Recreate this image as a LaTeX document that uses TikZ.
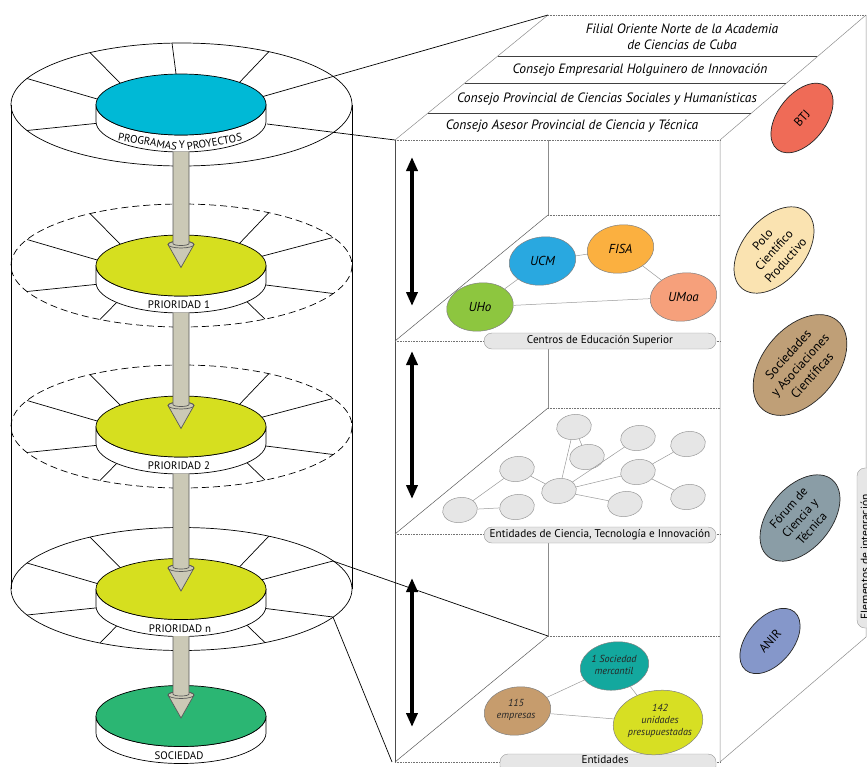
\documentclass[tikz,border=0pt]{standalone}
\usepackage{fontspec}
\setmainfont{PT Sans}
\usetikzlibrary{shapes.geometric,arrows.meta}
\definecolor{cyanD}{HTML}{00B9D6}
\definecolor{ylw}{HTML}{D6DF1F}
\definecolor{grn}{HTML}{2BB673}
\definecolor{shaftc}{HTML}{CBC9B6}
\definecolor{uhoc}{HTML}{8DC63F}
\definecolor{ucmc}{HTML}{29A8E0}
\definecolor{fisac}{HTML}{FBB040}
\definecolor{umoac}{HTML}{F6A07B}
\definecolor{netc}{HTML}{E6E6E6}
\definecolor{merc}{HTML}{13A89E}
\definecolor{empc}{HTML}{C69C6D}
\definecolor{unic}{HTML}{D7DF23}
\definecolor{btjc}{HTML}{EF6B57}
\definecolor{poloc}{HTML}{FAE3B1}
\definecolor{socc}{HTML}{BF9F77}
\definecolor{forc}{HTML}{8A9DA6}
\definecolor{anirc}{HTML}{8597CA}
\definecolor{tabc}{HTML}{E6E6E6}
\newcommand\rlines[1]{%
  \draw[cyl] (90,#1-52)--(122,#1-19.5) (27,#1-26)--(104,#1-3.5)
    (27,#1+26)--(100,#1+18.5) (100,#1+54)--(123,#1+30.5)
    (269,#1-53)--(237,#1-19.5) (333,#1-28)--(256,#1-7.7)
    (333,#1+28)--(258,#1+18.5) (265,#1+53.6)--(241,#1+30.5);}
\newcommand\mydisc[2]{%
  \filldraw[cyl,fill=white] (96,#1) -- (96,#1+17) arc[start angle=180,end angle=0,x radius=85,y radius=30.5] -- (266,#1) arc[start angle=0,end angle=180,x radius=85,y radius=30.5] -- cycle;
  \filldraw[cyl,fill=#2] (181,#1) ellipse[x radius=85,y radius=30.5];}
\newcommand\myshaft[2]{%
  \filldraw[shaftln] (168,#2-21) -- (181,#2+2) -- (194,#2-21) arc[start angle=0,end angle=-180,x radius=13,y radius=3.5] -- cycle;
  \draw[shaftln,fill=none] (181,#2-21) ellipse[x radius=13,y radius=3.5];
  \filldraw[shaftln] (173,#1) -- (173,#2-22) arc[start angle=180,end angle=0,x radius=8,y radius=2] -- (189,#1);}
\begin{document}
\begin{tikzpicture}[x=1pt,y=-1pt,
  cyl/.style={draw=black,line width=0.7pt},
  dsh/.style={dash pattern=on 7pt off 4pt},
  shaftln/.style={draw=black!65,fill=shaftc,line width=0.7pt},
  band/.style={font=\fontsize{10.9}{12}\selectfont,inner sep=0pt,anchor=base},
  boxln/.style={draw=black!45,line width=0.5pt},
  frontln/.style={draw=black!70,line width=0.6pt},
  dotln/.style={draw=black!55,line width=0.6pt,dash pattern=on 0.8pt off 0.8pt},
  diagln/.style={draw=black!65,line width=0.5pt},
  stripln/.style={draw=black!75,line width=0.6pt},
  conn/.style={draw=black,line width=0.7pt},
  lbl/.style={font=\fontsize{13.5}{16}\selectfont\itshape,inner sep=0pt,align=center},
  tabbox/.style={draw=black!40,fill=tabc,rounded corners=8pt,minimum width=232pt,minimum height=16pt,inner sep=0pt,font=\fontsize{11.2}{12}\selectfont},
  dbl/.style={line width=3.5pt,{Triangle[length=14pt,width=11pt]}-{Triangle[length=14pt,width=11pt]}},
  unell/.style={ellipse,draw=black!50,line width=0.5pt,inner sep=0pt,minimum width=67pt,minimum height=48pt,rotate=8},
  unt/.style={font=\fontsize{13}{14}\selectfont\itshape,inner sep=0pt},
  netell/.style={ellipse,draw=black!40,fill=netc,line width=0.5pt,inner sep=0pt,minimum width=35pt,minimum height=25pt,rotate=8},
  netln/.style={draw=black!40,line width=0.5pt},
  entt/.style={font=\fontsize{10.2}{12}\selectfont\itshape,inner sep=0pt,align=center,text=black!85},
  intell/.style={ellipse,draw=black!85,line width=0.7pt,inner sep=0pt,rotate=52},
  intt/.style={font=\fontsize{12.3}{15.5}\selectfont,inner sep=0pt,align=center,rotate=48}]
\useasboundingbox (0,0) rectangle (867,766);

% ---------- cylinder ----------
\draw[cyl] (11,104.5) -- (11,589) (352,104.5) -- (352,589);
\draw[cyl] (181.5,104.5) ellipse[x radius=170.5,y radius=61.5];
\draw[cyl,dsh] (181.5,265.5) ellipse[x radius=170.5,y radius=61.5];
\draw[cyl,dsh] (181.5,426.5) ellipse[x radius=170.5,y radius=61.5];
\draw[cyl] (181.5,589) ellipse[x radius=170.5,y radius=61.5];
\draw[cyl] (172,43)--(176.5,77.5) (90,52.5)--(122,85) (27,78.5)--(104,101)
  (27,130.5)--(100,123) (269,51.5)--(237,85);
\rlines{265.5}
\rlines{426.5}
\rlines{589}

\mydisc{104.5}{cyanD}
\mydisc{265.5}{ylw}
\mydisc{426.5}{ylw}
\mydisc{589}{ylw}
\mydisc{716}{grn}

\node[band,rotate=-10] (pp1) at (147,145.5) {PROGRAMAS};
\node[band] (pp2) at (182,148.3) {Y};
\node[band,rotate=10] (pp3) at (215,145.6) {PROYECTOS};
\node[band] (pr1) at (179,308.5) {PRIORIDAD 1};
\node[band] (pr2) at (179,469.5) {PRIORIDAD 2};
\node[band] (prn) at (180,632.5) {PRIORIDAD n};
\node[band] (soc) at (179,759) {SOCIEDAD};

\myshaft{151.5}{265.5}
\myshaft{312.5}{426.5}
\myshaft{473.5}{589}
\myshaft{636}{716}

% ---------- box ----------
\coordinate (FTL) at (395,140); \coordinate (FTR) at (720,140);
\coordinate (BTL) at (548,15);  \coordinate (BTR) at (866,15);
\coordinate (FBL) at (395,762); \coordinate (FBR) at (720,762);
\coordinate (BBR) at (866,637); \coordinate (BBL) at (548,636);
\draw[boxln] (FTL)--(BTL) (FTR)--(BTR) (BTR)--(BBR)--(FBR) (FTR)--(FBR);
\draw[dotln] (BTL)--(BTR) (FTL)--(FTR);
\draw[stripln] (498,56)--(817,56) (465,83)--(786,83) (428,113)--(751,113);
\draw[frontln] (FTL)--(FBL);
\draw[boxln] (548,140)--(548,215) (548,341)--(548,408) (548,534)--(548,636);
\draw[dotln] (548,215)--(720,215) (395,341)--(720,341)
  (548,408)--(720,408) (395,534)--(720,534)
  (548,636)--(720,636) (395,762)--(720,762);
\draw[diagln] (395,341)--(548,215) (395,534)--(548,408) (395,762)--(548,636);

\node[lbl] (l1) at (682,37) {Filial Oriente Norte de la Academia\\de Ciencias de Cuba};
\node[lbl] (l2) at (640,70) {Consejo Empresarial Holguinero de Innovación};
\node[lbl] (l3) at (607,99) {Consejo Provincial de Ciencias Sociales y Humanísticas};
\node[lbl] (l4) at (572,126) {Consejo Asesor Provincial de Ciencia y Técnica};

\node[tabbox] (tab1) at (600,341) {Centros de Educación Superior};
\node[tabbox] (tab2) at (600,535) {Entidades de Ciencia, Tecnología e Innovación};
\node[tabbox,minimum width=216pt,minimum height=20pt] (tab3) at (608,764) {};
\node[font=\fontsize{11.2}{12}\selectfont,inner sep=0pt] (tab3t) at (605,759.5) {Entidades};
\node[draw=black!40,fill=tabc,rounded corners=8pt,minimum width=160pt,minimum height=28pt,rotate=90,inner sep=0pt] (tab4) at (871,548) {};
\node[rotate=90,font=\fontsize{11.5}{13}\selectfont,inner sep=0pt] (tab4t) at (866,557) {Elementos de integración};

% arrows
\coordinate (a1t) at (412,157); \coordinate (a1b) at (412,306);
\coordinate (a2t) at (412,351); \coordinate (a2b) at (412,499);
\coordinate (a3t) at (412,578); \coordinate (a3b) at (412,727);
\draw[dbl] (a1t) -- (a1b);
\draw[dbl] (a2t) -- (a2b);
\draw[dbl] (a3t) -- (a3b);

% level 1
\node[unell,fill=uhoc] (uho) at (480,307) {};
\node[unell,fill=ucmc] (ucm) at (542.5,261) {};
\node[unell,fill=fisac] (fisa) at (620.5,249) {};
\node[unell,fill=umoac] (umoa) at (683.5,297) {};
\draw[netln] (uho)--(ucm) (ucm)--(fisa) (fisa)--(umoa) (uho)--(umoa);
\node[unt] (uhot) at (uho.center) {UHo};
\node[unt] (ucmt) at (ucm.center) {UCM};
\node[unt] (fisat) at (fisa.center) {FISA};
\node[unt] (umoat) at (umoa.center) {UMoa};

% level 2
\node[netell] (na) at (460,510) {};
\node[netell] (nb) at (517,507) {};
\node[netell] (nc) at (517,469) {};
\node[netell] (nd) at (559,491) {};
\node[netell] (ne) at (574,427) {};
\node[netell] (nf) at (587,457) {};
\node[netell] (ng) at (638,438) {};
\node[netell] (nh) at (638,472) {};
\node[netell] (ni) at (625,504) {};
\node[netell] (nj) at (688,444) {};
\node[netell] (nk) at (688,497) {};
\draw[netln] (na)--(nb) (na)--(nc) (nc)--(nd) (nd)--(ne) (ne)--(nf)
  (nd)--(ng) (nd)--(nh) (nd)--(ni) (nh)--(nj) (nh)--(nk);

% level 3
\node[unell,fill=merc,minimum width=69pt,minimum height=48pt] (mer) at (614.5,666) {};
\node[unell,fill=empc] (emp) at (517.5,711) {};
\node[unell,fill=unic,minimum width=90pt,minimum height=64pt] (uni) at (658,722.5) {};
\draw[netln] (emp)--(mer) (mer)--(uni) (emp)--(uni);
\node[entt] (mert) at (614,665) {1 Sociedad\\mercantil};
\node[entt] (empt) at (516,710) {115\\empresas};
\node[entt] (unit) at (660,721) {142\\unidades\\presupuestadas};

% integration elements
\node[intell,fill=btjc,minimum width=80pt,minimum height=48pt] (btj) at (802,118) {};
\node[intt] (btjt) at (btj.center) {BTJ};
\node[intell,fill=poloc,minimum width=100pt,minimum height=62pt,rotate=-2] (polo) at (774,250) {};
\node[intt] (polot) at (polo.center) {Polo\\Científico\\Productivo};
\node[intell,fill=socc,minimum width=116pt,minimum height=74pt,rotate=-2] (socs) at (800,365) {};
\node[intt,font=\fontsize{12.8}{16}\selectfont] (socst) at (socs.center) {Sociedades\\y Asociaciones\\Científicas};
\node[intell,fill=forc,minimum width=100pt,minimum height=62pt,rotate=-2] (for) at (800,518) {};
\node[intt] (fort) at (for.center) {Fórum de\\Ciencia y\\Técnica};
\node[intell,fill=anirc,minimum width=76pt,minimum height=46pt,rotate=-2] (anir) at (770,641) {};
\node[intt] (anirt) at (anir.center) {ANIR};

% connectors cylinder -> box
\coordinate (ct1) at (263,96.5); \coordinate (ct2) at (267,124);
\coordinate (cn1) at (333,561);  \coordinate (cn2) at (333,617);
\coordinate (cfb) at (392,762);
\draw[conn] (ct1) -- (BTL);
\draw[conn] (ct2) -- (FTL);
\draw[conn] (cn1) -- (BBL);
\draw[conn] (cn2) -- (cfb);
\end{tikzpicture}
\end{document}
